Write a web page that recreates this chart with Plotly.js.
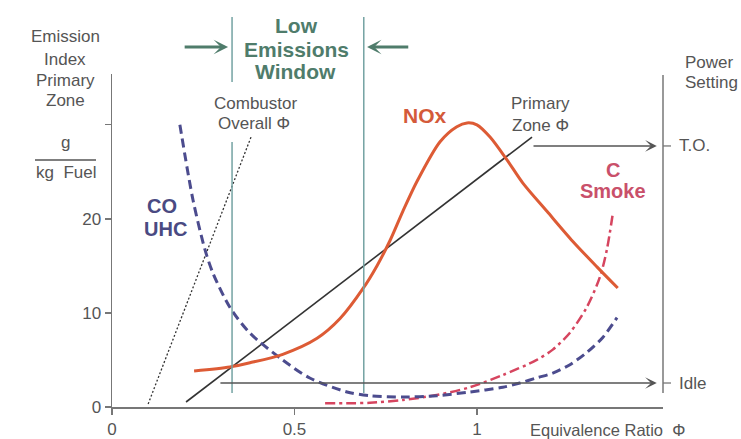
<!DOCTYPE html>
<html><head><meta charset="utf-8">
<script src="https://cdn.plot.ly/plotly-3.0.1.min.js"></script>
<style>body{margin:0;background:#fff}</style>
</head><body><div id="chart" style="width:741px;height:439px"></div>
<script>
// ---- data ----
const noxX = [0.225, 0.323, 0.378, 0.468, 0.562, 0.625, 0.688, 0.726, 0.762, 0.797, 0.836, 0.899, 0.945, 0.973, 1.000, 1.036, 1.082, 1.126, 1.192, 1.263, 1.329, 1.386];
const noxY = [3.83, 4.25, 4.7, 5.6, 7.3, 9.4, 12.6, 15.0, 17.7, 20.8, 24.0, 28.2, 29.8, 30.2, 30.0, 28.7, 26.3, 23.8, 20.8, 17.6, 14.9, 12.65];

const coX = [0.186, 0.222, 0.255, 0.277, 0.323, 0.378, 0.468, 0.542, 0.644, 0.707, 0.797, 0.890, 0.981, 1.071, 1.118, 1.164, 1.208, 1.255, 1.301, 1.345, 1.384];
const coY = [30.0, 22.0, 16.7, 14.2, 10.6, 7.86, 5.0, 3.08, 1.6, 1.2, 1.06, 1.2, 1.6, 2.1, 2.55, 3.1, 3.6, 4.5, 5.8, 7.4, 9.5];

const smokeX = [0.584, 0.650, 0.707, 0.797, 0.890, 0.981, 1.071, 1.164, 1.208, 1.255, 1.301, 1.337, 1.356, 1.373];
const smokeY = [0.4, 0.4, 0.45, 0.74, 1.28, 2.1, 3.4, 5.0, 6.1, 7.9, 10.6, 13.8, 16.7, 20.7];

const primaryZoneX = [0.203, 1.151];
const primaryZoneY = [0.53, 28.7];
const overallX = [0.099, 0.381];
const overallY = [0.32, 28.7];

const windowX = [0.329, 0.690];
const powerLevels = [27.75, 2.55];
const powerLabels = ['T.O.', 'Idle'];
const powerArrowFrom = [1.151, 0.293];
const powerArrowTo = 1.493;

const xTickVals = [0, 0.5, 1];
const xTickText = ['0', '0.5', '1'];
const yTickVals = [0, 10, 20, 30];
const yTickText = ['0', '10', '20', ''];

// ---- layout helpers ----
const F = 'Liberation Sans, Arial, Helvetica, sans-serif';
const L = 112, T = 74, W = 551, H = 333;
const px = x => (x - L) / W;
const py = y => (T + H - y) / H;
const GRAY = '#555555', GREEN = '#4f7c6b';

const traces = [
  {x: overallX, y: overallY, mode: 'lines', line: {color: '#333', width: 1.3, dash: '2px,2px'}, hoverinfo: 'skip'},
  {x: primaryZoneX, y: primaryZoneY, mode: 'lines', line: {color: '#333', width: 1.6}, hoverinfo: 'skip'},
  {x: smokeX, y: smokeY, mode: 'lines', line: {color: '#d6455f', width: 2.5, dash: '10px,4px,3px,4px', shape: 'spline', smoothing: 0.8}, hoverinfo: 'skip'},
  {x: coX, y: coY, mode: 'lines', line: {color: '#4c4c8e', width: 3, dash: '9px,5px', shape: 'spline', smoothing: 0.8}, hoverinfo: 'skip'},
  {x: noxX, y: noxY, mode: 'lines', line: {color: '#dd5b35', width: 3, shape: 'spline', smoothing: 0.8}, hoverinfo: 'skip'}
];

const ann = [];
function txt(text, x, y, font, extra) {
  ann.push(Object.assign({xref: 'paper', yref: 'paper', x: px(x), y: py(y), text: text, showarrow: false,
    xanchor: 'center', yanchor: 'middle', font: Object.assign({family: F, size: 17, color: GRAY}, font || {})}, extra || {}));
}
// y-axis title
txt('Emission', 65, 37); txt('Index', 65, 59); txt('Primary', 65, 80); txt('Zone', 65, 101);
txt('g', 65, 142); txt('kg  Fuel', 66, 172);
// x-axis title
txt('Equivalence Ratio  \u03A6', 528, 430, {size: 16.5}, {xanchor: 'left'});
// power setting
txt('Power', 710, 63); txt('Setting', 711, 83);
powerLevels.forEach((v, i) => {
  ann.push({xref: 'paper', yref: 'y', x: px(677), y: v, text: powerLabels[i], showarrow: false, xanchor: 'left', yanchor: 'middle', font: {family: F, size: 17, color: GRAY}});
  ann.push({xref: 'x', yref: 'y', x: powerArrowTo, y: v, axref: 'x', ayref: 'y', ax: powerArrowFrom[i], ay: v, text: '', showarrow: true, arrowhead: 3, arrowsize: 1.3, arrowwidth: 1.5, arrowcolor: '#555'});
});
// curve labels
txt('Combustor', 255, 104); txt('Overall \u03A6', 254, 124);
txt('Primary', 540, 104); txt('Zone \u03A6', 540, 125);
txt('<b>NOx</b>', 425, 115, {size: 21, color: '#d45a3a'});
txt('<b>C</b>', 613, 170, {size: 20, color: '#c9506a'});
txt('<b>Smoke</b>', 613, 191, {size: 20, color: '#c9506a'});
txt('<b>CO</b>', 162, 206, {size: 20, color: '#4a4a82'});
txt('<b>UHC</b>', 165, 229, {size: 20, color: '#4a4a82'});
txt('<b>Low</b>', 296, 25, {size: 21, color: GREEN});
txt('<b>Emissions</b>', 296, 49, {size: 21, color: GREEN});
txt('<b>Window</b>', 295, 71, {size: 21, color: GREEN});
// window arrows
ann.push({xref: 'x', yref: 'paper', x: windowX[0] - 0.011, y: py(47), axref: 'x', ayref: 'pixel', ax: 0.195, ay: 0, text: '', showarrow: true, arrowhead: 3, arrowsize: 0.8, arrowwidth: 3, arrowcolor: GREEN});
ann.push({xref: 'x', yref: 'paper', x: windowX[1] + 0.009, y: py(47), axref: 'x', ayref: 'pixel', ax: 0.816, ay: 0, text: '', showarrow: true, arrowhead: 3, arrowsize: 0.8, arrowwidth: 3, arrowcolor: GREEN});

const WCOL = '#74a3a3';
const shapes = [
  {type: 'line', xref: 'x', yref: 'paper', x0: windowX[0], x1: windowX[0], y0: py(82), y1: py(17), line: {color: WCOL, width: 1.5}},
  {type: 'line', xref: 'x', yref: 'paper', x0: windowX[0], x1: windowX[0], y0: py(393), y1: py(142), line: {color: WCOL, width: 1.5}},
  {type: 'line', xref: 'x', yref: 'paper', x0: windowX[1], x1: windowX[1], y0: py(393), y1: py(17), line: {color: WCOL, width: 1.5}},
  {type: 'line', xref: 'paper', yref: 'paper', x0: px(35), x1: px(96), y0: py(160), y1: py(160), line: {color: GRAY, width: 1.3}},
  {type: 'line', xref: 'paper', yref: 'paper', x0: 1, x1: 1, y0: py(393), y1: py(75), line: {color: '#777', width: 1.5}}
];
powerLevels.forEach(v => shapes.push({type: 'line', xref: 'paper', yref: 'y', x0: 1, x1: px(671), y0: v, y1: v, line: {color: '#777', width: 1.3}}));

const layout = {
  width: 741, height: 439,
  margin: {l: L, r: 741 - L - W, t: T, b: 439 - T - H},
  paper_bgcolor: '#ffffff', plot_bgcolor: '#ffffff',
  showlegend: false,
  font: {family: F, size: 17, color: GRAY},
  xaxis: {range: [0, 1.51], showgrid: false, zeroline: false, showline: true, linecolor: '#777', linewidth: 1.5,
    ticks: 'outside', ticklen: 6, tickcolor: '#777', tickwidth: 1.3, tickvals: xTickVals, ticktext: xTickText,
    tickfont: {family: F, size: 17, color: GRAY}},
  yaxis: {range: [0, 35.4], showgrid: false, zeroline: false, showline: true, linecolor: '#777', linewidth: 1.5,
    ticks: 'outside', ticklen: 6, tickcolor: '#777', tickwidth: 1.3, tickvals: yTickVals, ticktext: yTickText,
    tickfont: {family: F, size: 17, color: GRAY}},
  annotations: ann,
  shapes: shapes
};
Plotly.newPlot('chart', traces, layout, {displayModeBar: false, staticPlot: true});
</script></body></html>
